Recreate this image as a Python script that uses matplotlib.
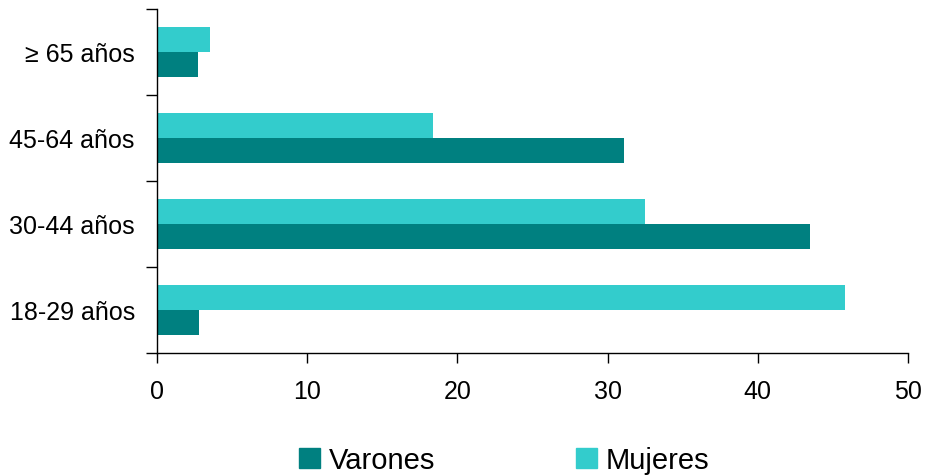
import numpy as np
import matplotlib
matplotlib.use('Agg')
from matplotlib import pyplot as plt
from matplotlib.patches import Patch

plt.rcParams['font.family'] = ['Liberation Sans', 'DejaVu Sans']

categories = ['18-29 años', '30-44 años', '45-64 años', '≥ 65 años']
varones = [2.8, 43.5, 31.1, 2.7]
mujeres = [45.8, 32.5, 18.4, 3.5]
xticks = [0, 10, 20, 30, 40, 50]

c_var = '#008080'
c_muj = '#33CCCC'

fig = plt.figure(figsize=(9.25, 4.77), dpi=100)
ax = fig.add_axes([157 / 925, 1 - 354 / 477, 751 / 925, 344 / 477])

y = np.arange(len(categories))
h = 0.295
ax.barh(y - h / 2, varones, height=h, color=c_var)
ax.barh(y + h / 2, mujeres, height=h, color=c_muj)

ax.set_xlim(0, 50)
ax.set_ylim(-0.5, len(categories) - 0.5)
ax.set_xticks(xticks)
ax.set_yticks(y)
ax.set_yticklabels(categories)
ax.set_yticks(np.arange(-0.5, len(categories)), minor=True)
ax.tick_params(axis='y', which='major', length=0, pad=16, labelsize=18)
ax.tick_params(axis='y', which='minor', length=8, width=1, direction='out')
ax.tick_params(axis='x', length=7, width=1, direction='out', labelsize=18, pad=12)

for s in ['top', 'right']:
    ax.spines[s].set_visible(False)
for s in ['left', 'bottom']:
    ax.spines[s].set_linewidth(1)

handles = [Patch(color=c_var, label='Varones'), Patch(color=c_muj, label='Mujeres')]
fig.legend(handles=handles, loc='center', bbox_to_anchor=(0.545, 0.033), ncol=2,
           frameon=False, fontsize=21, handlelength=0.72, handleheight=0.72,
           handletextpad=0.3, columnspacing=4.8, borderpad=0)

fig.savefig('out.png', dpi=100)
